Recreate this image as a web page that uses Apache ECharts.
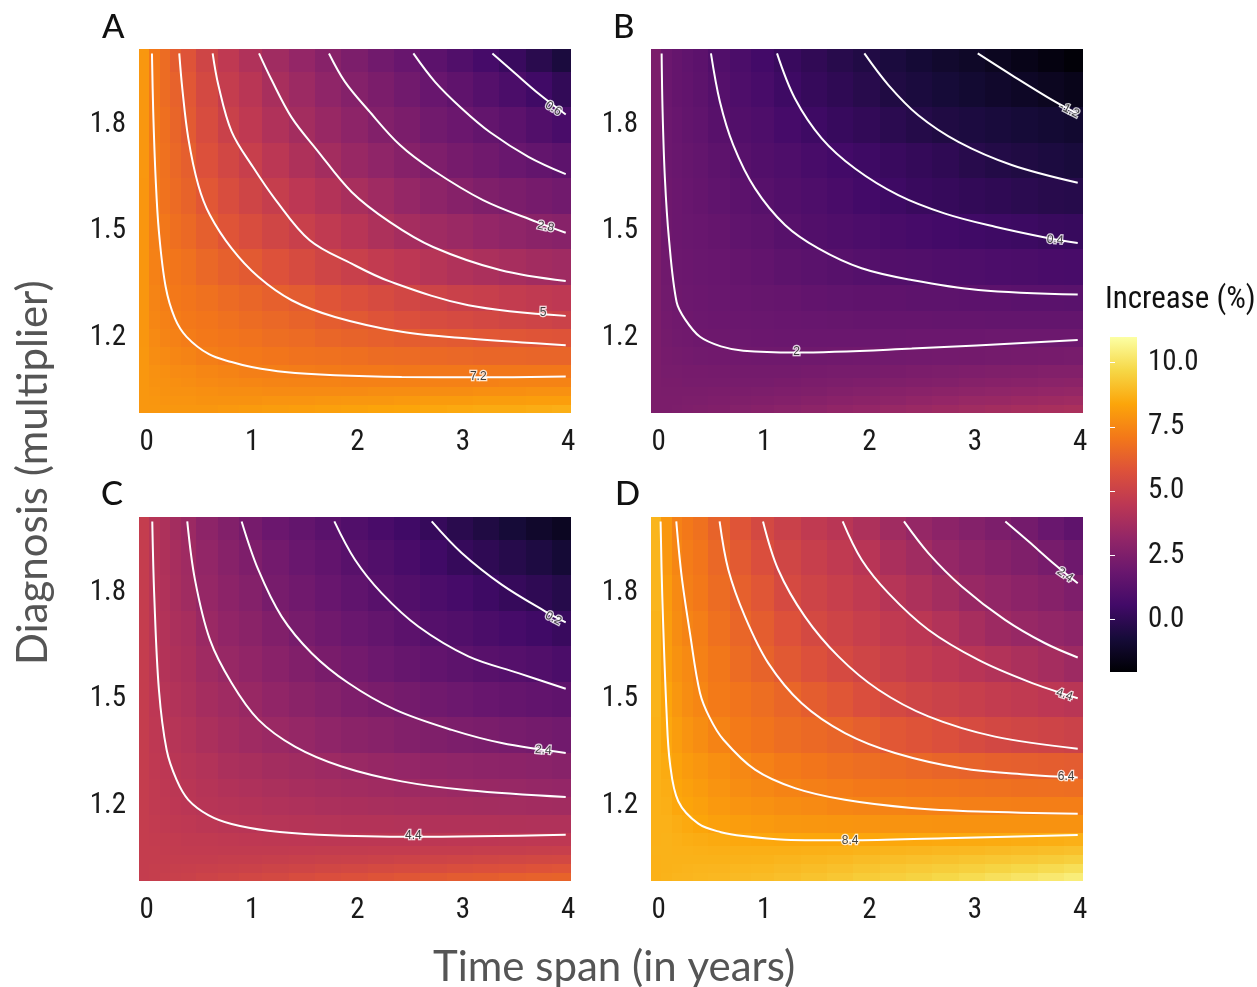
<!DOCTYPE html>
<html><head><meta charset="utf-8"><style>html,body{margin:0;padding:0;background:#fff}#c{width:1257px;height:987px}</style>
<script src="https://cdn.jsdelivr.net/npm/echarts@6/dist/echarts.min.js"></script></head><body><div id="c"></div>
<script>
const panelNames=['A','B','C','D'];
const xCenters=[0,.1,.2,.3,.4,.6,.8,1,1.25,1.5,1.75,2,2.25,2.5,2.75,3,3.25,3.5,3.75,4];
const yCenters=[1,1.025,1.05,1.075,1.1,1.15,1.2,1.25,1.3,1.4,1.5,1.6,1.7,1.8,1.9,2];
const xTicks=[0,1,2,3,4];
const yTicks=[1.2,1.5,1.8];
const legendTicks=[0,2.5,5,7.5,10];
const legendRange=[-2.04,11];
const heatA=[
[8,8,8,8,8,8,8.05,8.1,8.15,8.2,8.25,8.3,8.35,8.4,8.45,8.5,8.55,8.55,8.6,8.65],
[8,7.95,7.9,7.9,7.9,7.85,7.85,7.85,7.9,7.9,7.95,8,8,8.05,8.1,8.1,8.15,8.15,8.2,8.2],
[8,7.9,7.85,7.8,7.8,7.75,7.7,7.7,7.65,7.65,7.65,7.65,7.7,7.7,7.7,7.7,7.75,7.75,7.8,7.8],
[8,7.85,7.8,7.75,7.7,7.6,7.55,7.5,7.45,7.4,7.4,7.35,7.35,7.35,7.35,7.35,7.35,7.4,7.4,7.4],
[8,7.8,7.75,7.65,7.6,7.5,7.4,7.3,7.25,7.2,7.15,7.1,7.1,7.05,7.05,7.05,7.05,7.05,7.05,7.05],
[8,7.7,7.6,7.5,7.4,7.25,7.15,7.1,7,6.9,6.85,6.8,6.7,6.65,6.6,6.55,6.5,6.5,6.45,6.45],
[7.95,7.6,7.45,7.35,7.2,7.1,7,6.9,6.75,6.65,6.5,6.4,6.3,6.2,6.15,6.1,6,5.95,5.9,5.85],
[7.95,7.5,7.35,7.2,7.1,7,6.85,6.7,6.55,6.4,6.2,6.05,5.85,5.7,5.55,5.45,5.35,5.25,5.15,5.05],
[7.95,7.45,7.25,7.1,7,6.85,6.65,6.5,6.3,6.15,5.9,5.7,5.5,5.3,5.15,5,4.9,4.75,4.65,4.55],
[7.95,7.35,7.15,7,6.85,6.55,6.3,6.1,5.8,5.5,5.2,4.95,4.7,4.5,4.3,4.1,3.95,3.8,3.65,3.55],
[7.95,7.3,7.05,6.8,6.6,6.25,5.9,5.6,5.25,4.95,4.65,4.35,4,3.75,3.55,3.4,3.2,3.05,2.9,2.8],
[7.95,7.25,6.9,6.65,6.4,6,5.6,5.2,4.85,4.5,4.2,3.85,3.55,3.25,3,2.75,2.55,2.4,2.25,2.1],
[8,7.2,6.85,6.55,6.25,5.75,5.3,4.9,4.45,4.05,3.7,3.35,3.05,2.75,2.5,2.25,2.05,1.85,1.65,1.45],
[8,7.15,6.8,6.45,6.1,5.55,5,4.6,4.1,3.7,3.35,3,2.65,2.4,2.1,1.9,1.65,1.4,1.1,.8],
[8,7.1,6.7,6.35,6,5.4,4.8,4.4,3.85,3.45,3.05,2.7,2.4,2.1,1.8,1.5,1.2,.85,.5,.1],
[8,7.1,6.7,6.2,5.85,5.2,4.6,4.1,3.6,3.2,2.8,2.45,2.1,1.8,1.4,1.05,.7,.3,-.15,-.6]];
const heatB=[
[2.4,2.42,2.45,2.5,2.55,2.6,2.7,2.78,2.88,3,3.1,3.2,3.3,3.4,3.5,3.6,3.7,3.78,3.85,3.92],
[2.4,2.4,2.42,2.45,2.45,2.5,2.55,2.6,2.68,2.75,2.85,2.92,3,3.1,3.2,3.3,3.35,3.42,3.5,3.55],
[2.4,2.38,2.38,2.38,2.38,2.4,2.42,2.45,2.5,2.55,2.62,2.7,2.78,2.85,2.92,3,3.05,3.12,3.18,3.22],
[2.4,2.35,2.35,2.3,2.3,2.3,2.3,2.3,2.35,2.4,2.45,2.5,2.55,2.6,2.65,2.72,2.78,2.83,2.88,2.92],
[2.4,2.3,2.3,2.25,2.25,2.22,2.2,2.2,2.2,2.25,2.28,2.3,2.35,2.4,2.45,2.5,2.55,2.58,2.62,2.65],
[2.4,2.25,2.2,2.15,2.1,2.08,2.05,2.03,2.03,2.03,2.05,2.08,2.1,2.12,2.15,2.17,2.2,2.23,2.25,2.28],
[2.4,2.2,2.1,2.05,2,1.97,1.93,1.9,1.88,1.87,1.87,1.88,1.88,1.89,1.9,1.9,1.92,1.93,1.94,1.95],
[2.4,2.15,2.05,2,1.95,1.9,1.88,1.85,1.8,1.78,1.75,1.72,1.7,1.7,1.68,1.68,1.66,1.65,1.65,1.65],
[2.4,2.1,2,1.95,1.9,1.85,1.8,1.75,1.7,1.6,1.55,1.5,1.5,1.45,1.45,1.4,1.4,1.35,1.35,1.33],
[2.4,2.05,1.95,1.9,1.85,1.8,1.7,1.6,1.45,1.35,1.25,1.15,1.1,1.05,1,.95,.9,.85,.8,.75],
[2.4,2,1.9,1.85,1.8,1.7,1.55,1.45,1.25,1.1,1,.9,.8,.7,.6,.5,.45,.4,.3,.25],
[2.4,2,1.9,1.8,1.7,1.55,1.4,1.25,1.1,.95,.8,.6,.45,.3,.2,.1,0,-.1,-.2,-.25],
[2.4,1.95,1.85,1.75,1.65,1.45,1.25,1.1,.95,.75,.6,.45,.3,.15,0,-.2,-.35,-.45,-.55,-.65],
[2.4,1.95,1.8,1.65,1.55,1.3,1.1,.95,.7,.45,.25,.1,-.1,-.3,-.45,-.55,-.65,-.75,-.85,-.95],
[2.4,1.9,1.7,1.6,1.45,1.2,.95,.75,.45,.2,0,-.2,-.45,-.6,-.75,-.9,-1.05,-1.2,-1.35,-1.5],
[2.4,1.9,1.7,1.55,1.4,1.05,.85,.6,.3,.05,-.2,-.4,-.6,-.8,-1,-1.15,-1.35,-1.55,-1.75,-1.95]];
const heatC=[
[4.8,4.85,4.9,4.95,5,5.1,5.2,5.3,5.4,5.55,5.65,5.75,5.85,5.95,6.05,6.15,6.2,6.3,6.35,6.4],
[4.8,4.82,4.85,4.88,4.9,4.95,5,5.05,5.12,5.2,5.27,5.35,5.42,5.5,5.55,5.62,5.7,5.75,5.82,5.88],
[4.8,4.8,4.8,4.8,4.8,4.8,4.82,4.85,4.88,4.92,4.97,5,5.05,5.1,5.15,5.2,5.22,5.28,5.32,5.35],
[4.8,4.78,4.75,4.72,4.7,4.7,4.68,4.68,4.68,4.7,4.72,4.72,4.75,4.75,4.78,4.8,4.82,4.85,4.87,4.9],
[4.8,4.75,4.72,4.7,4.65,4.62,4.6,4.55,4.52,4.5,4.48,4.48,4.48,4.48,4.48,4.5,4.5,4.52,4.55,4.55],
[4.8,4.7,4.65,4.6,4.55,4.45,4.4,4.35,4.3,4.27,4.22,4.2,4.18,4.15,4.13,4.12,4.12,4.11,4.1,4.1],
[4.8,4.65,4.6,4.5,4.42,4.32,4.25,4.18,4.1,4.02,3.95,3.9,3.85,3.8,3.75,3.72,3.7,3.68,3.65,3.63],
[4.8,4.65,4.55,4.45,4.38,4.25,4.12,4.02,3.92,3.82,3.72,3.65,3.58,3.5,3.45,3.4,3.35,3.3,3.25,3.2],
[4.8,4.6,4.5,4.38,4.3,4.15,3.95,3.85,3.7,3.6,3.48,3.38,3.28,3.2,3.12,3.05,3,2.95,2.88,2.8],
[4.8,4.55,4.4,4.3,4.15,3.95,3.75,3.55,3.4,3.25,3.05,2.9,2.8,2.65,2.55,2.45,2.38,2.3,2.2,2.1],
[4.8,4.5,4.3,4.15,4,3.75,3.55,3.35,3.1,2.9,2.7,2.5,2.35,2.2,2.05,1.95,1.8,1.7,1.6,1.5],
[4.8,4.45,4.2,4.05,3.9,3.55,3.3,3.1,2.85,2.6,2.35,2.15,1.95,1.75,1.6,1.45,1.3,1.2,1.05,.85],
[4.8,4.4,4.15,3.95,3.8,3.4,3.1,2.9,2.6,2.3,2.05,1.85,1.65,1.4,1.2,1.05,.85,.7,.5,.3],
[4.8,4.35,4.1,3.85,3.6,3.25,2.95,2.7,2.3,2.05,1.8,1.55,1.3,1.1,.9,.7,.45,.2,0,-.25],
[4.8,4.3,4.05,3.8,3.55,3.15,2.8,2.5,2.15,1.85,1.6,1.3,1.05,.8,.5,.2,0,-.25,-.5,-.8],
[4.8,4.3,4,3.7,3.43,3,2.65,2.25,1.9,1.65,1.35,1.05,.8,.5,.2,-.15,-.45,-.75,-1.05,-1.3]];
const heatD=[
[8.7,8.75,8.8,8.82,8.85,8.9,8.95,9,9.08,9.18,9.28,9.4,9.5,9.6,9.72,9.85,10,10.12,10.26,10.4],
[8.7,8.72,8.75,8.78,8.8,8.82,8.85,8.88,8.95,9.02,9.1,9.2,9.28,9.36,9.44,9.52,9.62,9.72,9.83,9.95],
[8.7,8.72,8.72,8.72,8.72,8.72,8.73,8.75,8.8,8.85,8.92,9,9.05,9.1,9.16,9.22,9.28,9.34,9.42,9.5],
[8.72,8.72,8.7,8.7,8.68,8.65,8.65,8.65,8.65,8.68,8.7,8.75,8.78,8.82,8.86,8.9,8.95,9,9.05,9.1],
[8.7,8.72,8.68,8.62,8.58,8.52,8.48,8.45,8.43,8.42,8.42,8.43,8.44,8.47,8.49,8.52,8.55,8.58,8.62,8.67],
[8.7,8.7,8.6,8.5,8.4,8.25,8.15,8.08,8,7.95,7.92,7.9,7.88,7.86,7.85,7.85,7.85,7.85,7.85,7.85],
[8.7,8.65,8.45,8.35,8.25,8.05,7.9,7.8,7.7,7.6,7.5,7.45,7.4,7.35,7.33,7.3,7.28,7.27,7.26,7.25],
[8.7,8.6,8.4,8.25,8.1,7.9,7.7,7.55,7.42,7.3,7.2,7.1,7.05,7,6.95,6.9,6.85,6.8,6.78,6.75],
[8.7,8.55,8.3,8.1,7.95,7.75,7.55,7.35,7.15,7,6.85,6.75,6.65,6.55,6.45,6.38,6.3,6.25,6.2,6.15],
[8.7,8.45,8.15,7.9,7.7,7.4,7.15,6.95,6.75,6.6,6.45,6.25,6,5.85,5.7,5.5,5.35,5.25,5.15,5.05],
[8.75,8.35,8,7.7,7.5,7.15,6.95,6.75,6.5,6.2,5.95,5.65,5.4,5.2,5.05,4.9,4.75,4.65,4.5,4.4],
[8.75,8.2,7.85,7.6,7.35,7.05,6.7,6.4,6.05,5.75,5.45,5.2,4.95,4.75,4.55,4.35,4.15,3.95,3.75,3.5],
[8.75,8.15,7.7,7.45,7.25,6.85,6.5,6.2,5.8,5.4,5.15,4.9,4.65,4.45,4.15,3.8,3.5,3.3,3.15,3],
[8.8,8.1,7.6,7.3,7.1,6.7,6.3,5.95,5.45,5.15,4.9,4.65,4.3,4,3.7,3.35,3.15,2.95,2.75,2.5],
[8.8,8,7.5,7.2,7,6.55,6.1,5.65,5.25,4.9,4.65,4.35,3.9,3.6,3.25,3,2.75,2.55,2.3,2],
[8.8,8,7.35,7.1,6.85,6.4,5.9,5.4,5,4.65,4.4,4,3.6,3.25,2.95,2.7,2.45,2.2,1.85,1.5]];
const contoursA=[
[[.073,2],[.085,1.836],[.108,1.648],[.139,1.498],[.203,1.343],[.291,1.254],[.402,1.202],[.614,1.153],[.829,1.131],[1.019,1.117],[1.335,1.103],[1.81,1.094],[2.443,1.089],[3.177,1.088],[4,1.09]],
[[.332,2],[.361,1.901],[.418,1.761],[.513,1.629],[.623,1.545],[.829,1.451],[1.082,1.371],[1.399,1.305],[1.81,1.258],[2.443,1.216],[3.076,1.197],[4,1.178]],
[[.649,2],[.703,1.911],[.829,1.78],[1.032,1.68],[1.241,1.59],[1.57,1.474],[1.968,1.408],[2.33,1.358],[3.076,1.291],[4,1.261]],
[[1.089,2],[1.209,1.925],[1.398,1.82],[1.639,1.728],[1.968,1.61],[2.332,1.525],[2.741,1.455],[3.377,1.39],[4,1.359]],
[[1.753,2],[1.905,1.92],[2.127,1.84],[2.427,1.742],[2.741,1.671],[3.215,1.587],[3.728,1.525],[4,1.495]],
[[2.554,2],[2.759,1.92],[3.013,1.845],[3.282,1.778],[3.646,1.709],[4,1.66]],
[[3.304,2],[3.519,1.944],[3.741,1.887],[4,1.828]]];
const contoursB=[
[[.051,2],[.06,1.836],[.082,1.648],[.12,1.479],[.193,1.3],[.272,1.252],[.415,1.202],[.614,1.175],[.826,1.163],[1.316,1.158],[2.424,1.169],[4,1.193]],
[[.519,2],[.604,1.864],[.731,1.742],[.937,1.62],[1.222,1.517],[1.538,1.451],[1.949,1.395],[2.424,1.362],[3.057,1.334],[4,1.321]],
[[1.146,2],[1.316,1.873],[1.57,1.761],[1.886,1.676],[2.297,1.601],[2.741,1.549],[3.215,1.512],[3.737,1.479],[4,1.466]],
[[1.975,2],[2.203,1.911],[2.487,1.826],[2.867,1.751],[3.373,1.686],[4,1.636]],
[[3.051,2],[3.373,1.939],[3.785,1.864],[4,1.83]]];
const contoursC=[
[[.076,2],[.095,1.789],[.139,1.526],[.212,1.357],[.307,1.272],[.418,1.216],[.608,1.173],[.829,1.148],[1.177,1.129],[1.652,1.118],[2.538,1.112],[4,1.118]],
[[.408,2],[.481,1.836],[.623,1.667],[.829,1.545],[1.082,1.442],[1.43,1.366],[1.873,1.31],[2.443,1.268],[3.076,1.243],[4,1.224]],
[[.924,2],[1.082,1.864],[1.304,1.732],[1.589,1.629],[1.937,1.545],[2.38,1.47],[2.918,1.413],[3.392,1.376],[4,1.348]],
[[1.804,2],[2,1.892],[2.253,1.798],[2.601,1.704],[3.076,1.62],[3.551,1.573],[4,1.529]],
[[2.728,2],[3.013,1.911],[3.392,1.822],[3.804,1.747],[4,1.716]]];
const contoursD=[
[[.041,2],[.057,1.789],[.098,1.46],[.13,1.319],[.209,1.212],[.399,1.149],[.614,1.125],[.826,1.114],[1.222,1.104],[1.839,1.102],[2.74,1.108],[4,1.117]],
[[.19,2],[.241,1.845],[.32,1.685],[.415,1.517],[.509,1.446],[.636,1.386],[.937,1.301],[1.316,1.249],[1.791,1.216],[2.424,1.193],[3.057,1.183],[4,1.177]],
[[.601,2],[.684,1.864],[.842,1.732],[1.063,1.601],[1.38,1.488],[1.791,1.404],[2.266,1.348],[2.899,1.305],[3.532,1.287],[4,1.279]],
[[1.013,2],[1.158,1.864],[1.411,1.732],[1.728,1.62],[2.108,1.526],[2.582,1.451],[3.215,1.394],[4,1.36]],
[[1.769,2],[1.949,1.892],[2.203,1.798],[2.582,1.695],[3.057,1.61],[3.532,1.549],[4,1.502]],
[[2.351,2],[2.582,1.911],[2.899,1.817],[3.31,1.723],[3.69,1.657],[4,1.617]],
[[3.313,2],[3.532,1.944],[3.785,1.878],[4,1.826]]];
const labelsA=[['7.2',3.17,1.089,0],['5',3.785,1.269,0],['2.8',3.81,1.512,-12],['0.6',3.883,1.845,-33]];
const labelsB=[['2',1.332,1.159,0],['0.4',3.785,1.475,-5],['-1.2',3.92,1.84,-27]];
const labelsC=[['4.4',2.554,1.115,0],['2.4',3.788,1.356,-5],['0.2',3.883,1.727,-28]];
const labelsD=[['8.4',1.84,1.102,0],['6.4',3.89,1.282,0],['4.4',3.873,1.512,-18],['2.4',3.88,1.85,-35]];
const heats=[heatA,heatB,heatC,heatD];
const contours=[contoursA,contoursB,contoursC,contoursD];
const labels=[labelsA,labelsB,labelsC,labelsD];
const inferno=['#000004','#160b39','#420a68','#6a176e','#932667','#bc3754','#dd513a','#f37819','#fca50a','#f6d746','#fcffa4'];

const narrow='"Roboto Condensed",Roboto,sans-serif';
const rounded='Lato,"Open Sans",sans-serif';
const tickColor='#1a1a1a';
const tickFont=29;
const edges=(c,pad)=>{const e=[c[0]-pad];for(let i=0;i<c.length-1;i++)e.push((c[i]+c[i+1])/2);e.push(c[c.length-1]+pad);return e;};
const xE=edges(xCenters,.05),yE=edges(yCenters,.0125);
const pos=[[139,49],[651,49],[139,517],[651,517]];
const grid=pos.map(p=>({left:p[0],top:p[1],width:432,height:364}));
grid.push({left:1110,top:337,width:27,height:335});
const xAxis=pos.map((p,i)=>({type:'value',gridIndex:i,min:-.05,max:4.05,splitLine:{show:false},axisLine:{show:false},axisTick:{show:false},
  axisLabel:{customValues:xTicks,margin:15,fontSize:tickFont,color:tickColor,fontFamily:narrow,padding:[0,0,0,5],formatter:v=>String(v),hideOverlap:false}}));
const yAxis=pos.map((p,i)=>({type:'value',gridIndex:i,min:.9875,max:2.0125,splitLine:{show:false},axisLine:{show:false},axisTick:{show:false},
  axisLabel:{customValues:yTicks,margin:13,fontSize:tickFont,color:tickColor,fontFamily:narrow,padding:[2,0,0,0],formatter:v=>v.toFixed(1),hideOverlap:false}}));
xAxis.push({type:'value',gridIndex:4,min:0,max:1,show:false});
yAxis.push({type:'value',gridIndex:4,min:legendRange[0],max:legendRange[1],position:'right',z:10,splitLine:{show:false},axisLine:{show:false},
  axisTick:{show:true,inside:true,length:5,customValues:legendTicks,lineStyle:{color:'#fff',width:1}},
  axisLabel:{customValues:legendTicks,margin:11,fontSize:tickFont,color:tickColor,fontFamily:narrow,formatter:v=>v.toFixed(1),hideOverlap:false}});
yAxis.push({type:'value',gridIndex:4,min:legendRange[0],max:legendRange[1],position:'left',z:10,splitLine:{show:false},axisLine:{show:false},
  axisTick:{show:true,inside:true,length:5,customValues:legendTicks,lineStyle:{color:'#fff',width:1}},axisLabel:{show:false}});
const series=[];
heats.forEach((h,k)=>{
  const d=[];
  h.forEach((row,j)=>row.forEach((v,i)=>d.push([xE[i],xE[i+1],yE[j],yE[j+1],v])));
  series.push({type:'custom',xAxisIndex:k,yAxisIndex:k,data:d,silent:true,animation:false,progressive:0,z:1,clip:true,
    encode:{x:[0,1],y:[2,3]},
    renderItem:(p,api)=>{const a=api.coord([api.value(0),api.value(3)]),b=api.coord([api.value(1),api.value(2)]);
      const x=Math.floor(a[0]),y=Math.floor(a[1]);
      return {type:'rect',shape:{x,y,width:Math.ceil(b[0])-x,height:Math.ceil(b[1])-y},style:{fill:api.visual('color')}};}});
});
contours.forEach((cs,k)=>cs.forEach(c=>series.push({type:'line',xAxisIndex:k,yAxisIndex:k,data:c,smooth:.35,showSymbol:false,symbol:'none',silent:true,animation:false,z:3,clip:false,
  lineStyle:{color:'#fff',width:2}})));
labels.forEach((ls,k)=>series.push({type:'scatter',xAxisIndex:k,yAxisIndex:k,symbolSize:0,silent:true,animation:false,z:5,
  data:ls.map(l=>({value:[l[1],l[2]],label:{show:true,position:'inside',formatter:l[0],rotate:l[3],fontSize:12,fontFamily:'"Liberation Sans",sans-serif',color:'#111',textBorderColor:'#fff',textBorderWidth:2.5}}))}));
series.push({type:'custom',xAxisIndex:4,yAxisIndex:4,data:[[0,1,legendRange[0],legendRange[1]]],silent:true,animation:false,z:1,encode:{x:[0,1],y:[2,3]},
  renderItem:(p,api)=>{const a=api.coord([api.value(0),api.value(3)]),b=api.coord([api.value(1),api.value(2)]);
    return {type:'rect',shape:{x:a[0],y:a[1],width:b[0]-a[0],height:b[1]-a[1]},style:{fill:new echarts.graphic.LinearGradient(0,1,0,0,inferno.map((c,i)=>({offset:i/(inferno.length-1),color:c})))}};}});
const tag=(t,x,y)=>({type:'text',x,y,z:20,style:{text:t,font:'500 33px '+rounded,fill:'#111'}});
const chart=echarts.init(document.getElementById('c'),null,{renderer:'canvas'});
chart.setOption({animation:false,backgroundColor:'#fff',grid,xAxis,yAxis,series,
  visualMap:{type:'continuous',show:false,seriesIndex:[0,1,2,3],dimension:4,min:legendRange[0],max:legendRange[1],inRange:{color:inferno}},
  graphic:[tag('A',102,11),tag('B',613,11),tag('C',101,478),tag('D',615,478),
    {type:'text',x:1105,y:285,z:20,style:{text:'Increase (%)',font:'31px '+narrow,fill:'#111'}},
    {type:'text',x:433,y:946,z:20,style:{text:'Time span (in years)',font:'42px '+rounded,fill:'#555'}},
    {type:'text',x:12,y:665,rotation:Math.PI/2,z:20,style:{text:'Diagnosis (multiplier)',font:'42px '+rounded,fill:'#555'}}
  ]});
</script></body></html>
